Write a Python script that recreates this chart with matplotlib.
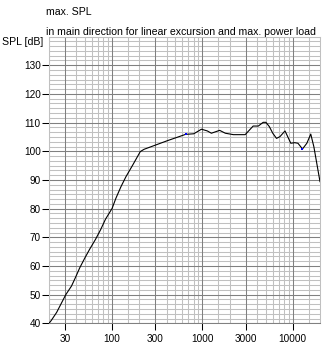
import matplotlib
matplotlib.use("Agg")
import matplotlib.pyplot as plt
import numpy as np
from matplotlib.ticker import FixedLocator, NullFormatter

# max. SPL curve (frequency in Hz, level in dB)
freq = [20, 21.2, 24.3, 27, 30.7, 35.5, 39.3, 43.7, 49.7, 56.3, 65.5, 74.4,
        84.4, 100, 110, 125, 142, 169, 205, 226, 304, 409, 527, 650, 800,
        975, 1130, 1255, 1550, 1790, 2200, 2970, 3640, 4150, 4700, 5040,
        5500, 6000, 6600, 7200, 8200, 9500, 10500, 11400, 12800, 14300,
        15800, 17100, 20000]
spl = [40, 41.0, 43.8, 46.6, 50, 53.0, 56.0, 59.3, 62.7, 65.8, 69.3, 72.6,
       76.3, 80.1, 83.6, 87.6, 91.1, 95.2, 99.9, 100.7, 102.2, 103.7, 104.9,
       105.9, 106.1, 107.7, 107.1, 106.3, 107.3, 106.3, 105.8, 105.8, 108.8,
       108.8, 110.1, 110.1, 108.6, 106.3, 104.5, 105.1, 107.1, 102.8, 103.0,
       102.8, 100.8, 102.8, 106.0, 101.6, 89.4]
# points highlighted in blue on the curve
marked = [23, 44]

x_major = [30, 100, 300, 1000, 3000, 10000]
x_labels = ["30", "100", "300", "1000", "3000", "10000"]
x_minor = [20, 40, 50, 60, 70, 80, 90, 150, 200, 400, 500, 600, 700, 800,
           900, 1500, 2000, 4000, 5000, 6000, 7000, 8000, 9000, 15000]
y_major = [40, 50, 60, 70, 80, 90, 100, 110, 120, 130]

plt.rcParams['font.family'] = ['Liberation Sans', 'DejaVu Sans']

W, H = 334, 346
fig = plt.figure(figsize=(W / 100, H / 100), dpi=100)
fig.patch.set_facecolor("white")
x0, x1, y0, y1 = 49, 320, 323.3, 36.6
ax = fig.add_axes([x0 / W, 1 - y0 / H, (x1 - x0) / W, (y0 - y1) / H])

dark = "#808080"
light = "#c0c0c0"
lw = 0.75

ax.set_xscale("log")
ax.set_xlim(20, 20000)
ax.set_ylim(40, 140)

# grid: light lines at minor freqs and every 10/6 dB, dark at labelled ticks
for f in x_minor:
    ax.axvline(f, color=light, lw=lw, zorder=1)
for f in x_major:
    ax.axvline(f, color=dark, lw=lw, zorder=2)
for v in np.arange(40, 140.01, 10 / 6):
    ax.axhline(v, color=light, lw=lw, zorder=1)
for v in y_major:
    ax.axhline(v, color=dark, lw=lw, zorder=2)

ax.plot(freq, spl, color="black", lw=0.8, zorder=3)
ax.plot([freq[i] for i in marked], [spl[i] for i in marked], "s",
        color="#0000ff", ms=1.5, mew=0, zorder=4)

ax.xaxis.set_major_locator(FixedLocator(x_major))
ax.xaxis.set_minor_locator(FixedLocator([]))
ax.xaxis.set_minor_formatter(NullFormatter())
ax.set_xticklabels(x_labels)
ax.set_yticks(y_major)
ax.tick_params(axis="both", which="major", length=5, width=lw,
               color="black", labelsize=7.2, pad=1)
ax.tick_params(axis="x", pad=3)

for side in ("top", "right", "left"):
    ax.spines[side].set_color(light)
    ax.spines[side].set_linewidth(lw)
ax.spines["bottom"].set_color(dark)
ax.spines["bottom"].set_linewidth(lw)

fig.text(46 / W, 1 - 12 / H, "max. SPL", ha="left", va="center",
         fontsize=7.6)
fig.text(46 / W, 1 - 32 / H,
         "in main direction for linear excursion and max. power load",
         ha="left", va="center", fontsize=7.6)
fig.text(2 / W, 1 - 42 / H, "SPL [dB]", ha="left", va="center",
         fontsize=7.6)

fig.savefig("out.png", dpi=100)
